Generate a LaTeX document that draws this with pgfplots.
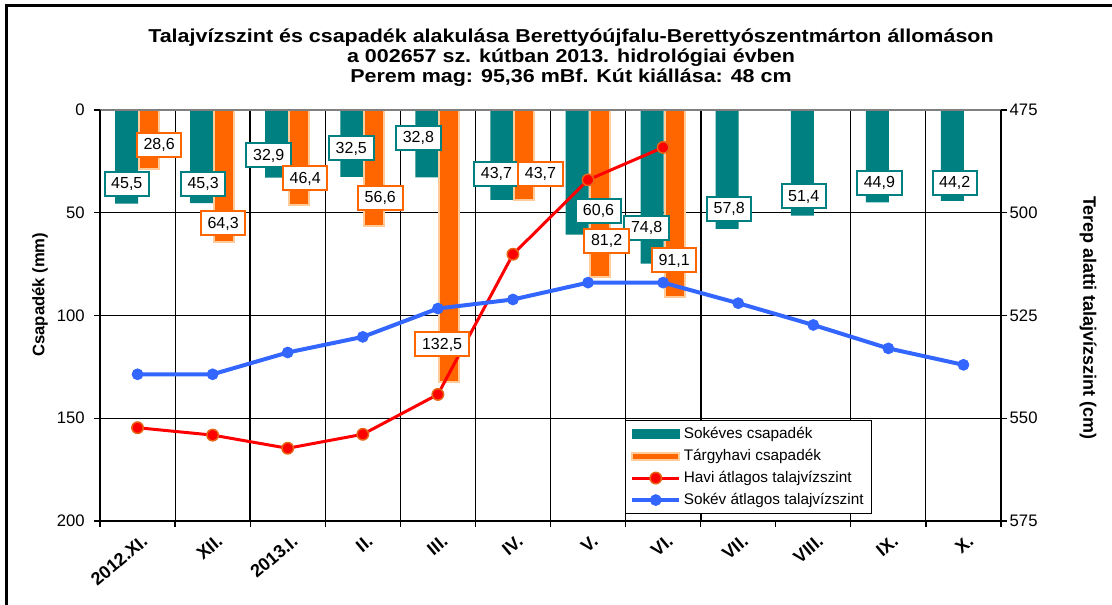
\documentclass[border=0pt]{standalone}
\usepackage{pgfplots}
\pgfplotsset{compat=1.18}
\usepackage{fontspec}
\setmainfont{Liberation Sans}
\definecolor{tealc}{RGB}{0,128,128}
\definecolor{orangec}{RGB}{255,102,0}
\definecolor{lightor}{RGB}{255,204,153}
\definecolor{redc}{RGB}{255,0,0}
\definecolor{bluec}{RGB}{51,102,255}
\definecolor{redmark}{RGB}{230,100,20}
\definecolor{grayc}{RGB}{128,128,128}
\pgfplotsset{
  boxaxis/.style={at={(75pt,62.25pt)}, anchor=south west, scale only axis,
    width=675.75pt, height=308.25pt, xmin=-0.5, xmax=11.5, clip=false,
    /pgf/number format/assume math mode=true},
}
\tikzset{
  lab/.style={draw=#1, line width=1.5pt, fill=white, text=black, inner xsep=5pt,
    inner ysep=3.75pt, text height=9pt, text depth=1.5pt,
    font=\fontsize{12}{14}\selectfont, anchor=center},
  ttl/.style={anchor=base, font=\bfseries\fontsize{14}{16}\selectfont\addfontfeature{FakeStretch=1.15}},
}
\begin{document}
\begin{tikzpicture}
\path[use as bounding box] (0,0) rectangle (834pt,453pt);
\draw[line width=2.25pt] (4.5pt,-3pt) -- (4.5pt,448.5pt) -- (840pt,448.5pt);
\node[ttl] at (428.25pt,420.75pt) {Talajvízszint és csapadék alakulása Berettyóújfalu-Berettyószentmárton állomáson};
\node[ttl] at (428.25pt,405.75pt) {a 002657 sz. kútban 2013. hidrológiai évben};
\node[ttl] at (428.25pt,390.75pt) {Perem mag: 95,36 mBf. Kút kiállása: 48 cm};
\node[rotate=90, font=\bfseries\fontsize{12.5}{15}\selectfont] at (30pt,232pt) {Csapadék (mm)};
\node[rotate=-90, font=\bfseries\fontsize{13.5}{15}\selectfont] at (816pt,214.5pt) {Terep alatti talajvízszint (cm)};

% --- precipitation axis (left) ---
\begin{axis}[boxaxis,
  ymin=0, ymax=200, y dir=reverse,
  axis line style={draw=none},
  tick align=outside, major tick length=4.5pt,
  tick style={black, line width=0.9pt},
  ytick={0,50,100,150,200}, ytick pos=left,
  yticklabel style={font=\fontsize{12.5}{15}\selectfont, xshift=-3.5pt},
  ymajorgrids, major grid style={black, line width=0.75pt},
  xtick={-0.5,0.5,...,11.5},
  xticklabels={2012.XI.,XII.,2013.I.,II.,III.,IV.,V.,VI.,VII.,VIII.,IX.,X.},
  x tick label as interval,
  xtick pos=left,
  xticklabel style={rotate=40, anchor=north east, yshift=-2pt, xshift=2pt,
    font=\bfseries\fontsize{13.5}{15}\selectfont},
]
\pgfplotsinvokeforeach{0.5,2.5,3.5,5.5,6.5,9.5,10.5}{
  \draw[black, line width=0.75pt] (axis cs:#1,0) -- (axis cs:#1,200);}
\pgfplotsinvokeforeach{1.5,4.5,7.5}{
  \draw[black, line width=1.3pt] (axis cs:#1,0) -- (axis cs:#1,200);}
\addplot[ybar, bar width=17.25pt, bar shift=-8.25pt, fill=tealc, draw=none]
  coordinates {(0,45.5) (1,45.3) (2,32.9) (3,32.5) (4,32.8) (5,43.7)
               (6,60.6) (7,74.8) (8,57.8) (9,51.4) (10,44.9) (11,44.2)};
\addplot[ybar, bar width=15pt, bar shift=8.6pt, fill=orangec, draw=lightor, line width=1.5pt]
  coordinates {(0,28.6) (1,64.3) (2,46.4) (3,56.6) (4,132.5) (5,43.7) (6,81.2) (7,91.1)};
\end{axis}

% --- groundwater axis (right) ---
\begin{axis}[boxaxis,
  ymin=475, ymax=575, y dir=reverse,
  axis x line=none, axis y line*=right, axis line style={draw=none},
  ytick={475,500,525,550,575},
  tick align=outside, major tick length=4.5pt,
  tick style={black, line width=0.9pt},
  yticklabel style={font=\fontsize{12.5}{15}\selectfont, xshift=-1.5pt},
  legend style={at={(axis cs:6.487,550.4)}, anchor=north west, draw=black, line width=0.75pt,
    font=\fontsize{11.5}{13}\selectfont, inner xsep=4pt, inner ysep=2pt,
    nodes={text height=8.5pt, text depth=2.5pt, inner ysep=2.75pt, inner xsep=2pt}},
  legend cell align=left,
  legend image code/.code={\draw[mark repeat=2,mark phase=2,#1] plot coordinates {(0pt,0pt) (17.5pt,0pt) (35pt,0pt)};},
]
\addlegendimage{legend image code/.code={\fill[tealc] (0pt,-3.5pt) rectangle (35pt,3.5pt);}}
\addlegendentry{Sokéves csapadék}
\addlegendimage{legend image code/.code={\filldraw[fill=orangec, draw=lightor, line width=1.5pt] (0pt,-2.6pt) rectangle (35pt,2.6pt);}}
\addlegendentry{Tárgyhavi csapadék}
\addplot[redc, line width=2.25pt, mark=*, mark size=4.3pt, mark options={fill=redc, draw=redmark, line width=1.1pt}]
  coordinates {(0,552.3) (1,554.1) (2,557.3) (3,553.9) (4,544.2) (5,510.1) (6,492.0) (7,484.1)};
\addlegendentry{Havi átlagos talajvízszint}
\addplot[bluec, line width=3pt, mark=*, mark size=4.1pt, mark options={fill=bluec, draw=bluec, line width=0.6pt}]
  coordinates {(0,539.3) (1,539.3) (2,534.0) (3,530.2) (4,523.3) (5,521.1) (6,517.0)
               (7,517.0) (8,522.0) (9,527.3) (10,533.0) (11,537.0)};
\addlegendentry{Sokév átlagos talajvízszint}
\draw[grayc, line width=2pt] (axis cs:-0.5,475) -- (axis cs:11.5,475);
\draw[black, line width=1.5pt] (axis cs:-0.5,475) -- (axis cs:-0.5,575) -- (axis cs:11.5,575) -- (axis cs:11.5,475);
\end{axis}

% --- data labels ---
\begin{axis}[boxaxis, ymin=0, ymax=200, y dir=reverse, hide axis]
\addplot[only marks, mark=*, mark size=0.1pt, mark options={draw=none, fill=none},
  nodes near coords, point meta=explicit symbolic,
  every node near coord/.append style={lab=tealc}]
  table[meta=lab] {
x y lab
-0.143 35.9 45,5
0.873 35.9 45,3
1.747 22.0 32,9
2.847 18.6 32,5
3.74 13.5 32,8
4.78 31.1 43,7
6.14 49.1 60,6
6.78 57.4 74,8
7.88 48.1 57,8
8.873 42.0 51,4
9.88 35.4 44,9
10.884 35.3 44,2
};
\addplot[only marks, mark=*, mark size=0.1pt, mark options={draw=none, fill=none},
  nodes near coords, point meta=explicit symbolic,
  every node near coord/.append style={lab=orangec}]
  table[meta=lab] {
x y lab
0.287 17.0 28,6
1.14 55.1 64,3
2.233 33.2 46,4
3.233 42.8 56,6
4.056 113.9 132,5
5.367 31.1 43,7
6.247 63.6 81,2
7.147 73.1 91,1
};
\end{axis}
\end{tikzpicture}
\end{document}
